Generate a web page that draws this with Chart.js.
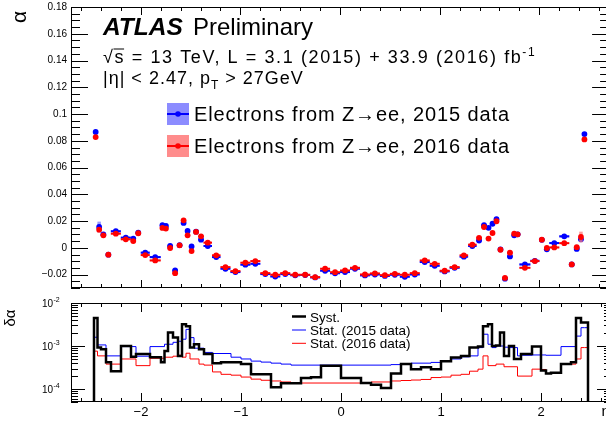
<!DOCTYPE html>
<html lang="en">
  <head>
    <meta charset="UTF-8" />
    <title>alpha vs eta</title>
    <script src="https://cdn.jsdelivr.net/npm/chart.js"></script>
    <style>
      html, body { margin: 0; padding: 0; overflow: hidden; background: #fff; }
      #wrap { position: relative; width: 606px; height: 421px; overflow: hidden; }
      canvas { position: absolute; left: 0; }
    </style>
  </head>
  <body>
    <div id="wrap">
      <canvas id="topChart" width="612" height="296" style="top:0"></canvas>
      <canvas id="botChart" width="612" height="125" style="top:296px"></canvas>
    </div>
    <script>
      // eta bin edges (68 bins)
      var etaEdges = [-2.47, -2.435, -2.4, -2.35, -2.3, -2.2, -2.1, -2.05, -2.0, -1.91,
        -1.8, -1.765, -1.73, -1.68, -1.63, -1.59, -1.55, -1.51, -1.47, -1.42,
        -1.37, -1.285, -1.2, -1.1, -1.0, -0.9, -0.8, -0.7, -0.6, -0.5,
        -0.4, -0.3, -0.2, -0.1, 0, 0.1, 0.2, 0.3, 0.4, 0.5,
        0.6, 0.7, 0.8, 0.9, 1.0, 1.1, 1.2, 1.285, 1.37, 1.42,
        1.47, 1.51, 1.55, 1.59, 1.63, 1.68, 1.73, 1.765, 1.8, 1.91,
        2.0, 2.05, 2.1, 2.2, 2.3, 2.35, 2.4, 2.435, 2.47];

      // alpha, Z->ee 2015 data
      var alpha2015 = [0.0866, 0.0156, 0.0100, -0.0051, 0.0124, 0.0076, 0.0069, 0.0113, -0.0036, -0.0069,
        0.0169, 0.0164, 0.0014, -0.0169, 0.0020, 0.0186, 0.0126, 0.0011, 0.0121, 0.0061,
        0.0014, -0.0069, -0.0156, -0.0181, -0.0126, -0.0119, -0.0196, -0.0214, -0.0196, -0.0205,
        -0.0203, -0.0221, -0.0171, -0.0190,
        -0.0181, -0.0156, -0.0206, -0.0199, -0.0210, -0.0201, -0.0216, -0.0199, -0.0106, -0.0134,
        -0.0176, -0.0149, -0.0066, 0.0014, 0.0055, 0.0169, 0.0150, 0.0180, 0.0214, -0.0012,
        -0.0230, -0.0064, 0.0094, 0.0101, -0.0124, -0.0097, 0.0060, -0.0011, 0.0036, 0.0086,
        -0.0124, -0.0008, 0.0064, 0.0850];
      // alpha, Z->ee 2016 data
      var alpha2016 = [0.0828, 0.0136, 0.0094, -0.0051, 0.0106, 0.0064, 0.0051, 0.0109, -0.0054, -0.0094,
        0.0149, 0.0144, -0.0001, -0.0189, 0.0019, 0.0206, 0.0094, -0.0024, 0.0119, 0.0086,
        0.0039, -0.0056, -0.0144, -0.0174, -0.0111, -0.0099, -0.0189, -0.0201, -0.0189, -0.0201,
        -0.0201, -0.0219, -0.0156, -0.0182,
        -0.0169, -0.0149, -0.0199, -0.0191, -0.0204, -0.0194, -0.0201, -0.0189, -0.0094, -0.0119,
        -0.0171, -0.0144, -0.0056, 0.0024, 0.0075, 0.0156, 0.0069, 0.0111, 0.0199, -0.0014,
        -0.0225, -0.0036, 0.0106, 0.0101, -0.0149, -0.0099, 0.0061, -0.0001, 0.0003, 0.0035,
        -0.0124, 0.0005, 0.0081, 0.0810];
      // total uncertainty on alpha (light boxes)
      var err2015 = [0.0015, 0.0040, 0.0010, 0.0010, 0.0008, 0.0008, 0.0008, 0.0008, 0.0008, 0.0008,
        0.0008, 0.0008, 0.0008, 0.0008, 0.0008, 0.0008, 0.0008, 0.0008, 0.0008, 0.0008,
        0.0006, 0.0006, 0.0005, 0.0005, 0.0005, 0.0005, 0.0005, 0.0005, 0.0005, 0.0005,
        0.0005, 0.0005, 0.0005, 0.0005,
        0.0005, 0.0005, 0.0005, 0.0005, 0.0005, 0.0005, 0.0005, 0.0005, 0.0005, 0.0005,
        0.0005, 0.0005, 0.0006, 0.0006, 0.0008, 0.0008, 0.0008, 0.0008, 0.0008, 0.0008,
        0.0008, 0.0008, 0.0008, 0.0008, 0.0008, 0.0008, 0.0008, 0.0008, 0.0008, 0.0008,
        0.0010, 0.0010, 0.0020, 0.0015];
      var err2016 = [0.0012, 0.0020, 0.0008, 0.0008, 0.0006, 0.0006, 0.0006, 0.0006, 0.0006, 0.0006,
        0.0006, 0.0006, 0.0006, 0.0006, 0.0006, 0.0006, 0.0006, 0.0006, 0.0006, 0.0006,
        0.0005, 0.0005, 0.0004, 0.0004, 0.0004, 0.0004, 0.0004, 0.0004, 0.0004, 0.0004,
        0.0004, 0.0004, 0.0004, 0.0004,
        0.0004, 0.0004, 0.0004, 0.0004, 0.0004, 0.0004, 0.0004, 0.0004, 0.0004, 0.0004,
        0.0004, 0.0004, 0.0005, 0.0005, 0.0006, 0.0006, 0.0006, 0.0006, 0.0006, 0.0006,
        0.0006, 0.0006, 0.0006, 0.0006, 0.0006, 0.0006, 0.0006, 0.0006, 0.0006, 0.0006,
        0.0008, 0.0008, 0.0040, 0.0012];

      // delta alpha
      var systUnc = [3.2e-3, 4.5e-3, 9.2e-4, 8.4e-4, 4.2e-4, 2.6e-4, 1.0e-3, 5.6e-4, 6.5e-4, 6.5e-4,
        5.5e-4, 4.2e-4, 7.7e-4, 2.05e-3, 1.57e-3, 5.9e-4, 3.2e-3, 2.9e-3, 9.2e-4, 1.1e-3,
        8.4e-4, 6.5e-4, 4.0e-4, 4.2e-4, 4.2e-4, 3.8e-4, 2.2e-4, 2.2e-4, 1.1e-4, 1.36e-4,
        1.36e-4, 1.8e-4, 1.87e-4, 3.5e-4,
        3.5e-4, 1.8e-4, 1.8e-4, 1.38e-4, 1.26e-4, 1.06e-4, 2.3e-4, 3.8e-4, 2.9e-4, 3.2e-4,
        2.9e-4, 4.4e-4, 5.4e-4, 5.9e-4, 9.2e-4, 9.8e-4, 2.9e-3, 3.2e-3, 1.0e-3, 1.03e-3,
        2.05e-3, 5.9e-4, 1.0e-3, 5.0e-4, 5.0e-4, 6.5e-4, 9.8e-4, 2.7e-4, 2.3e-4, 2.4e-4,
        3.8e-4, 4.2e-4, 4.5e-3, 3.5e-3];
      var stat2015 = [2.67e-3, 1.6e-3, 1.06e-3, 1.06e-3, 5.9e-4, 5.9e-4, 9.7e-4, 9.7e-4, 5.8e-4, 5.8e-4,
        9.7e-4, 9.7e-4, 1.1e-3, 1.1e-3, 1.22e-3, 1.29e-3, 1.44e-3, 2.44e-3, 1.57e-3, 8.9e-4,
        8.9e-4, 7.1e-4, 6.7e-4, 6.7e-4, 5.5e-4, 5.0e-4, 4.46e-4, 4.23e-4, 4.0e-4, 3.8e-4,
        3.6e-4, 3.6e-4, 3.6e-4, 3.6e-4,
        3.6e-4, 3.6e-4, 3.6e-4, 3.6e-4, 3.6e-4, 3.6e-4, 3.7e-4, 3.8e-4, 4.0e-4, 4.0e-4,
        4.16e-4, 4.5e-4, 5.0e-4, 5.6e-4, 5.9e-4, 9.2e-4, 1.88e-3, 1.1e-3, 9.2e-4, 1.0e-3,
        1.0e-3, 9.4e-4, 9.2e-4, 9.2e-4, 5.9e-4, 6.1e-4, 6.2e-4, 6.2e-4, 6.1e-4, 6.1e-4,
        9.7e-4, 9.7e-4, 1.7e-3, 2.67e-3];
      var stat2016 = [1.2e-3, 7.6e-4, 5.9e-4, 5.9e-4, 3.8e-4, 3.8e-4, 5.0e-4, 5.0e-4, 3.5e-4, 3.5e-4,
        5.2e-4, 5.2e-4, 5.5e-4, 5.5e-4, 5.8e-4, 6.1e-4, 5.5e-4, 6.8e-4, 5.0e-4, 5.0e-4,
        3.8e-4, 3.6e-4, 2.5e-4, 2.2e-4, 2.1e-4, 1.9e-4, 1.7e-4, 1.6e-4, 1.54e-4, 1.46e-4,
        1.42e-4, 1.38e-4, 1.38e-4, 1.38e-4,
        1.38e-4, 1.38e-4, 1.38e-4, 1.42e-4, 1.46e-4, 1.46e-4, 1.54e-4, 1.58e-4, 1.62e-4, 1.67e-4,
        1.85e-4, 1.9e-4, 2.1e-4, 2.2e-4, 2.6e-4, 2.9e-4, 5.9e-4, 3.5e-4, 3.5e-4, 3.8e-4,
        3.8e-4, 3.3e-4, 3.3e-4, 3.3e-4, 2.0e-4, 2.0e-4, 2.9e-4, 2.85e-4, 2.3e-4, 2.3e-4,
        3.8e-4, 3.8e-4, 5.0e-4, 9.2e-4];

      // tick labels
      var alphaTicks = [-0.02, 0, 0.02, 0.04, 0.06, 0.08, 0.1, 0.12, 0.14, 0.16, 0.18];
      var alphaTickLabels = ["\u22120.02", "0", "0.02", "0.04", "0.06", "0.08", "0.1", "0.12", "0.14", "0.16", "0.18"];
      var etaTicks = [-2, -1, 0, 1, 2];
      var etaTickLabels = ["\u22122", "\u22121", "0", "1", "2"];
      var logTicks = [1e-4, 1e-3, 1e-2];
      var logTickLabels = ["-4", "-3", "-2"];

      var FONT = '"Liberation Sans", Arial, Helvetica, sans-serif';

      function centers() {
        var c = [];
        for (var i = 0; i < etaEdges.length - 1; i++) c.push((etaEdges[i] + etaEdges[i + 1]) / 2);
        return c;
      }
      function points(vals) {
        var c = centers();
        return vals.map(function (v, i) { return { x: c[i], y: v }; });
      }
      function steps(vals) {
        var pts = [{ x: etaEdges[0], y: 1e-7 }];
        vals.forEach(function (v, i) { pts.push({ x: etaEdges[i], y: v }); });
        pts.push({ x: etaEdges[etaEdges.length - 1], y: vals[vals.length - 1] });
        pts.push({ x: etaEdges[etaEdges.length - 1], y: 1e-7 });
        return pts;
      }

      // text with sub/superscripts: parts = [text, size, dy, style]
      function rich(ctx, x, y, parts, spacing) {
        ctx.letterSpacing = (spacing || 0) + "px";
        parts.forEach(function (p) {
          ctx.font = (p[3] || "") + " " + p[1] + "px " + FONT;
          ctx.fillText(p[0], x, y + (p[2] || 0));
          x += ctx.measureText(p[0]).width;
        });
        ctx.letterSpacing = "0px";
        return x;
      }
      function line(ctx, x1, y1, x2, y2) {
        ctx.beginPath(); ctx.moveTo(x1, y1); ctx.lineTo(x2, y2); ctx.stroke();
      }
      // frame + ticks pointing inward on all four sides
      function axisTicks(chart, xMajor, xMinor, xLen, yMajor, yMinor, yLen) {
        var ctx = chart.ctx, a = chart.chartArea, xs = chart.scales.x, ys = chart.scales.y;
        ctx.save();
        ctx.strokeStyle = "#000"; ctx.lineWidth = 1;
        ctx.strokeRect(a.left + 0.5, a.top + 0.5, a.right - a.left - 1, a.bottom - a.top - 1);
        [[xMajor, xLen[0]], [xMinor, xLen[1]]].forEach(function (set) {
          set[0].forEach(function (v) {
            var px = Math.round(xs.getPixelForValue(v)) + 0.5;
            line(ctx, px, a.bottom, px, a.bottom - set[1]);
            line(ctx, px, a.top, px, a.top + set[1]);
          });
        });
        [[yMajor, yLen[0]], [yMinor, yLen[1]]].forEach(function (set) {
          set[0].forEach(function (v) {
            var py = Math.round(ys.getPixelForValue(v)) + 0.5;
            line(ctx, a.left, py, a.left + set[1], py);
            line(ctx, a.right, py, a.right - set[1], py);
          });
        });
        ctx.restore();
      }

      var etaMinor = [];
      for (var k = -13; k <= 13; k++) if (k % 5 !== 0) etaMinor.push(k * 0.2);
      var alphaMinor = [];
      for (var m = -6; m <= 36; m++) if (m % 4 !== 0) alphaMinor.push(m * 0.005);
      var logMinor = [];
      [1e-5, 1e-4, 1e-3].forEach(function (d) {
        for (var j = 2; j <= 9; j++) if (j * d >= 5e-5 && j * d <= 1e-2) logMinor.push(j * d);
      });

      var topDeco = {
        id: "topDeco",
        beforeDatasetDraw: function (chart, args) {
          var ds = chart.data.datasets[args.index];
          var ctx = chart.ctx, xs = chart.scales.x, ys = chart.scales.y, a = chart.chartArea;
          ctx.save();
          ctx.beginPath(); ctx.rect(a.left, a.top, a.right - a.left, a.bottom - a.top); ctx.clip();
          ds.values.forEach(function (v, i) {
            var lo = xs.getPixelForValue(etaEdges[i]), hi = xs.getPixelForValue(etaEdges[i + 1]);
            var y0 = ys.getPixelForValue(v + ds.errs[i]), y1 = ys.getPixelForValue(v - ds.errs[i]);
            ctx.fillStyle = ds.boxColor;
            ctx.fillRect(lo, y0, hi - lo, y1 - y0);
            ctx.strokeStyle = ds.backgroundColor; ctx.lineWidth = 2;
            line(ctx, lo, ys.getPixelForValue(v), hi, ys.getPixelForValue(v));
          });
          ctx.restore();
        },
        afterDraw: function (chart) {
          var ctx = chart.ctx, ys = chart.scales.y;
          axisTicks(chart, etaTicks, etaMinor, [8, 4], alphaTicks, alphaMinor, [17, 9]);
          ctx.save();
          ctx.fillStyle = "#000";
          ctx.font = "10px " + FONT; ctx.textAlign = "right"; ctx.textBaseline = "middle";
          alphaTicks.forEach(function (v, i) { ctx.fillText(alphaTickLabels[i], 67, ys.getPixelForValue(v)); });
          ctx.textAlign = "left"; ctx.textBaseline = "alphabetic";
          // y title
          ctx.save(); ctx.translate(26, 17); ctx.rotate(-Math.PI / 2);
          ctx.font = "21px " + FONT; ctx.textAlign = "center"; ctx.fillText("\u03b1", 0, 0);
          ctx.restore();
          ctx.font = "italic bold 24.5px " + FONT; ctx.fillText("ATLAS", 103, 35);
          ctx.font = "24px " + FONT; ctx.fillText("Preliminary", 193, 35);
          var xs1 = rich(ctx, 103, 62.5, [["\u221a", 18]], 1.6);
          var xs2 = rich(ctx, xs1, 62.5, [["s", 18]], 1.6);
          ctx.strokeStyle = "#000"; ctx.lineWidth = 1; line(ctx, xs1 - 1, 49, xs2 - 1, 49);
          rich(ctx, xs2, 62.5, [[" = 13 TeV, L = 3.1 (2015) + 33.9 (2016) fb", 18], ["-1", 12, -7]], 1.6);
          rich(ctx, 103, 84, [["|\u03b7| < 2.47, p", 18], ["T", 12, 5], [" > 27GeV", 18]], 1.0);
          // legend
          [["#8c8cff", "#0000ff", 114, "Electrons from Z\u2192ee, 2015 data"],
           ["#ff8c8c", "#ff0000", 146, "Electrons from Z\u2192ee, 2016 data"]].forEach(function (e) {
            ctx.fillStyle = e[0]; ctx.fillRect(167, e[2] - 11, 22, 22);
            ctx.strokeStyle = e[1]; ctx.lineWidth = 2; line(ctx, 167, e[2], 189, e[2]);
            ctx.fillStyle = e[1]; ctx.beginPath(); ctx.arc(178, e[2], 2.8, 0, Math.PI * 2); ctx.fill();
            ctx.fillStyle = "#000";
            rich(ctx, 194, e[2] + 7, [[e[3], 20]], 0.9);
          });
          ctx.restore();
        }
      };

      var botDeco = {
        id: "botDeco",
        afterDraw: function (chart) {
          var ctx = chart.ctx, xs = chart.scales.x, ys = chart.scales.y;
          axisTicks(chart, etaTicks, etaMinor, [9, 4], logTicks, logMinor, [14, 7]);
          ctx.save();
          ctx.fillStyle = "#000";
          logTicks.forEach(function (v, i) {
            var py = ys.getPixelForValue(v);
            ctx.font = "10px " + FONT; ctx.textAlign = "right"; ctx.fillText("10", 53, py + 4);
            ctx.font = "7px " + FONT; ctx.textAlign = "left"; ctx.fillText(logTickLabels[i], 53.5, py - 1);
          });
          ctx.font = "13px " + FONT; ctx.textAlign = "center";
          etaTicks.forEach(function (v, i) { ctx.fillText(etaTickLabels[i], xs.getPixelForValue(v), 120); });
          ctx.font = "15px " + FONT; ctx.textAlign = "left";
          ctx.fillText("\u03b7", 601.5, 120);
          ctx.save(); ctx.translate(15, 22); ctx.rotate(-Math.PI / 2);
          ctx.font = "15px " + FONT; ctx.textAlign = "center"; ctx.fillText("\u03b4\u03b1", 0, 0);
          ctx.restore();
          // legend
          [["#000", 2.5, 20.5, "Syst."], ["#0000ff", 1, 34, "Stat. (2015 data)"], ["#ff0000", 1, 47.3, "Stat. (2016 data)"]].forEach(function (e) {
            ctx.strokeStyle = e[0]; ctx.lineWidth = e[1]; line(ctx, 292, e[2], 306, e[2]);
            ctx.fillStyle = "#000"; ctx.font = "13.5px " + FONT; ctx.textAlign = "left";
            ctx.fillText(e[3], 310, e[2] + 5);
          });
          ctx.restore();
        }
      };

      function hiddenAxis(extra) {
        var o = { ticks: { display: false }, grid: { display: false, drawTicks: false }, border: { display: false } };
        for (var key in extra) o[key] = extra[key];
        return o;
      }

      document.addEventListener("DOMContentLoaded", function () {
        new Chart(document.getElementById("topChart").getContext("2d"), {
          type: "scatter",
          data: {
            datasets: [
              { label: "2016", data: points(alpha2016), values: alpha2016, errs: err2016, boxColor: "rgba(255,120,120,0.75)",
                backgroundColor: "#ff0000", pointRadius: 2.9, pointBorderWidth: 0, pointHoverRadius: 2.9 },
              { label: "2015", data: points(alpha2015), values: alpha2015, errs: err2015, boxColor: "rgba(120,120,255,0.75)",
                backgroundColor: "#0000ff", pointRadius: 2.9, pointBorderWidth: 0, pointHoverRadius: 2.9 }
            ]
          },
          options: {
            responsive: false, animation: false, devicePixelRatio: 1,
            layout: { padding: { left: 0, right: 1, top: 7, bottom: 0 } },
            plugins: { legend: { display: false }, tooltip: { enabled: false } },
            scales: {
              x: hiddenAxis({ type: "linear", min: -2.7, max: 2.7, afterFit: function (s) { s.height = 8; } }),
              y: hiddenAxis({ min: -0.03, max: 0.18, afterFit: function (s) { s.width = 71; } })
            }
          },
          plugins: [topDeco]
        });

        new Chart(document.getElementById("botChart").getContext("2d"), {
          type: "line",
          data: {
            datasets: [
              { label: "Syst.", data: steps(systUnc), borderColor: "#000", borderWidth: 2.5 },
              { label: "Stat. (2015 data)", data: steps(stat2015), borderColor: "#0000ff", borderWidth: 1 },
              { label: "Stat. (2016 data)", data: steps(stat2016), borderColor: "#ff0000", borderWidth: 1 }
            ].map(function (d) { d.stepped = "after"; d.pointRadius = 0; d.fill = false; return d; })
          },
          options: {
            responsive: false, animation: false, devicePixelRatio: 1,
            layout: { padding: { left: 0, right: 1, top: 7, bottom: 0 } },
            plugins: { legend: { display: false }, tooltip: { enabled: false } },
            scales: {
              x: hiddenAxis({ type: "linear", min: -2.7, max: 2.7, afterFit: function (s) { s.height = 19; } }),
              y: hiddenAxis({ type: "logarithmic", min: 5e-5, max: 1e-2, afterFit: function (s) { s.width = 71; } })
            }
          },
          plugins: [botDeco]
        });
      });
    </script>
  </body>
</html>
